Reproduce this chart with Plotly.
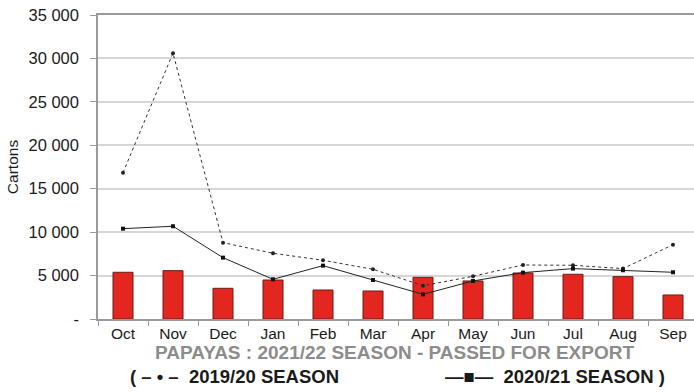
import plotly.graph_objects as go

months = ["Oct", "Nov", "Dec", "Jan", "Feb", "Mar", "Apr", "May", "Jun", "Jul", "Aug", "Sep"]
season_2021_22 = [5380, 5565, 3535, 4490, 3340, 3225, 4800, 4380, 5300, 5150, 4875, 2765]
season_2019_20 = [16850, 30610, 8790, 7570, 6760, 5725, 3840, 4915, 6220, 6185, 5800, 8560]
season_2020_21 = [10400, 10680, 7065, 4570, 6145, 4490, 2840, 4380, 5340, 5800, 5610, 5380]

y_tickvals = [0, 5000, 10000, 15000, 20000, 25000, 30000, 35000]
y_ticktext = ["-", "5 000", "10 000", "15 000", "20 000", "25 000", "30 000", "35 000"]

FONT = "Liberation Sans, Arial, sans-serif"

fig = go.Figure()
fig.add_trace(go.Bar(
    x=months, y=season_2021_22, width=0.4,
    marker=dict(color="#e3261f", line=dict(color="#6e1a16", width=1)),
    name="2021/22 Season", showlegend=False,
))
fig.add_trace(go.Scatter(
    x=months, y=season_2019_20, mode="lines+markers",
    line=dict(color="#333333", width=1, dash="dot"),
    marker=dict(symbol="circle", size=4, color="#222222"),
    name="2019/20 Season", showlegend=False,
))
fig.add_trace(go.Scatter(
    x=months, y=season_2020_21, mode="lines+markers",
    line=dict(color="#222222", width=1),
    marker=dict(symbol="square", size=4, color="#111111"),
    name="2020/21 Season", showlegend=False,
))

fig.update_layout(
    width=694, height=392,
    margin=dict(l=98, r=0, t=15, b=73, autoexpand=False),
    paper_bgcolor="white", plot_bgcolor="white",
    font=dict(family=FONT, color="#1a1a1a", size=16),
    xaxis=dict(
        type="category", range=[-0.5, 11.42],
        showline=True, linecolor="#9a9a9a", linewidth=1.5, mirror=True,
        ticks="outside", ticklen=5, tickcolor="#9a9a9a", tickson="boundaries",
        showgrid=False, tickfont=dict(size=15.5, color="#1a1a1a"),
    ),
    yaxis=dict(
        range=[0, 35000], tickvals=y_tickvals, ticktext=y_ticktext,
        showline=True, linecolor="#9a9a9a", linewidth=1.5,
        showgrid=True, gridcolor="#d6d6d6", gridwidth=1.5,
        tickfont=dict(size=16.5, color="#1a1a1a"),
        ticks="outside", ticklen=6, tickcolor="#9a9a9a", ticklabelstandoff=8,
        title=dict(text="Cartons", font=dict(size=15.5, color="#1a1a1a"), standoff=6),
        zeroline=False, automargin=False,
    ),
    annotations=[
        dict(text="<b>PAPAYAS : 2021/22 SEASON - PASSED FOR EXPORT</b>",
             xref="paper", yref="paper", x=0.498, y=-0.1118, xanchor="center", yanchor="middle",
             showarrow=False, font=dict(size=19, color="#8c8c8c", family=FONT)),
        dict(text="<b>( – • –  2019/20 SEASON</b>",
             xref="paper", yref="paper", x=0.05, y=-0.1875, xanchor="left", yanchor="middle",
             showarrow=False, font=dict(size=18.5, color="#1a1a1a", family=FONT)),
        dict(text="<b>—■—  2020/21 SEASON )</b>",
             xref="paper", yref="paper", x=0.955, y=-0.1875, xanchor="right", yanchor="middle",
             showarrow=False, font=dict(size=18.5, color="#1a1a1a", family=FONT)),
    ],
)

fig.write_html("out.html", config={"displayModeBar": False},
               post_script="document.body.style.margin='0px';")
